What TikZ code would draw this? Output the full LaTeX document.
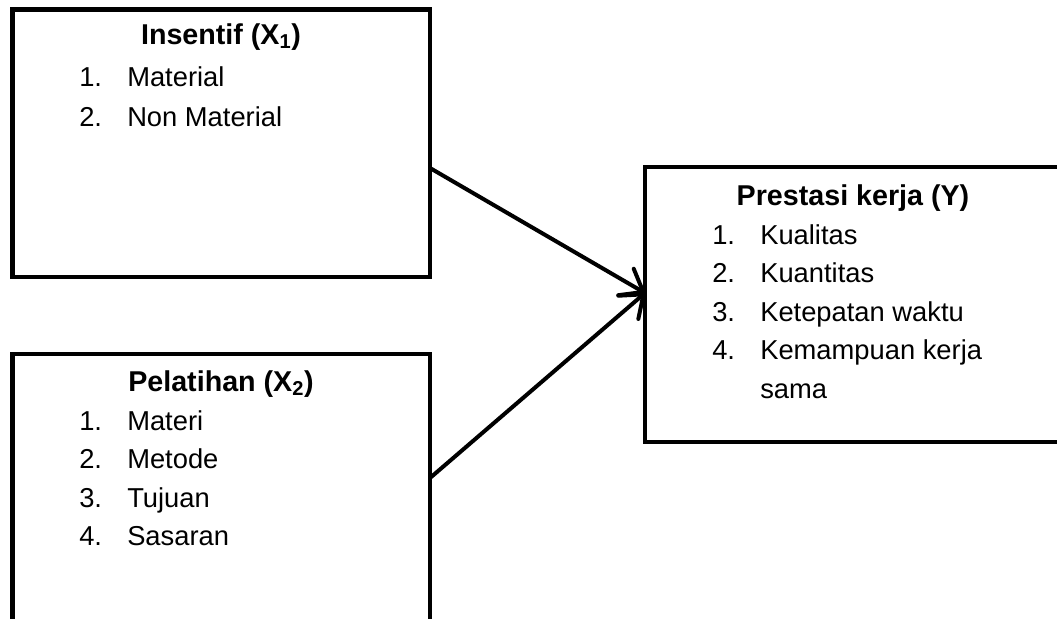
\documentclass[tikz,border=0pt]{standalone}
\usepackage{fontspec}
\setmainfont{Liberation Sans}
\usetikzlibrary{arrows.meta}
\begin{document}
\begin{tikzpicture}[x=0.75pt,y=-0.75pt,
  box/.style={draw=black, line width=3.2pt, inner sep=0pt, outer sep=0pt},
  txt/.style={font=\fontsize{20.5}{24}\selectfont, inner sep=0pt, anchor=base west},
  ttl/.style={font=\bfseries\fontsize{21.5}{24}\selectfont, inner sep=0pt, anchor=base},
  link/.style={line width=3pt, -{Straight Barb[length=15pt,width=23pt,round]}}]
\clip (0,0) rectangle (1057,618);
% boxes
\node[box, minimum width=313.1pt, minimum height=200.6pt] (b1) at (221.25,143.25) {};
\node[box, minimum width=313.1pt, minimum height=259.5pt] (b2) at (221.25,527) {};
\node[box, minimum width=312.75pt, minimum height=206.25pt] (b3) at (853.5,304.5) {};
% box 1 text
\node[ttl] (t1) at (221,44) {Insentif (X\textsubscript{1})};
\node[txt] (i11) at (79,86) {\makebox[36pt][l]{1.}Material};
\node[txt] (i12) at (79,126) {\makebox[36pt][l]{2.}Non Material};
% box 2 text
\node[ttl] (t2) at (221,391) {Pelatihan (X\textsubscript{2})};
\node[txt] (i21) at (79,430) {\makebox[36pt][l]{1.}Materi};
\node[txt] (i22) at (79,468.5) {\makebox[36pt][l]{2.}Metode};
\node[txt] (i23) at (79,507) {\makebox[36pt][l]{3.}Tujuan};
\node[txt] (i24) at (79,545.5) {\makebox[36pt][l]{4.}Sasaran};
% box 3 text
\node[ttl] (t3) at (853,205) {Prestasi kerja (Y)};
\node[txt] (i31) at (712,244) {\makebox[36pt][l]{1.}Kualitas};
\node[txt] (i32) at (712,282.5) {\makebox[36pt][l]{2.}Kuantitas};
\node[txt] (i33) at (712,321) {\makebox[36pt][l]{3.}Ketepatan waktu};
\node[txt] (i34) at (712,359.5) {\makebox[36pt][l]{4.}Kemampuan kerja};
\node[txt] (i35) at (760,398) {sama};
% connectors
\coordinate (s1) at (b1.north east |- 0,168);
\coordinate (s2) at (b2.north east |- 0,478);
\coordinate (tg) at (b3.north west |- 0,293);
\draw[link] (s1) -- (tg);
\draw[link] (s2) -- (tg);
\end{tikzpicture}
\end{document}
